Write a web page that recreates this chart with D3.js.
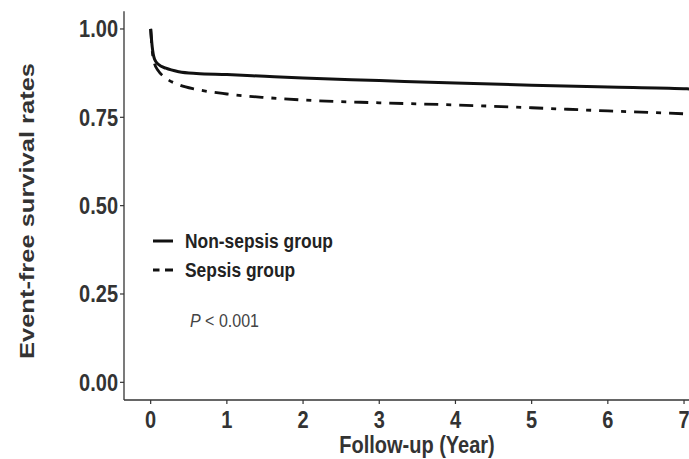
<!DOCTYPE html>
<html>
<head>
<meta charset="utf-8">
<script src="https://cdn.jsdelivr.net/npm/d3@7"></script>
<style>
  html, body { margin: 0; padding: 0; background: #fff; }
  svg { display: block; }
</style>
</head>
<body>
<svg id="chart" width="689" height="459"></svg>
<script>
// ---- Data ----
const years = [0, 0.02, 0.05, 0.1, 0.2, 0.37, 0.6, 1, 1.5, 2, 3, 4, 5, 6, 7, 7.1];
const nonSepsis = [1.0, 0.95, 0.915, 0.900, 0.889, 0.879, 0.874, 0.871, 0.866, 0.861, 0.854, 0.847, 0.841, 0.836, 0.831, 0.830];
const sepsis    = [1.0, 0.94, 0.902, 0.882, 0.861, 0.842, 0.829, 0.816, 0.806, 0.799, 0.791, 0.785, 0.777, 0.768, 0.760, 0.759];
const seriesNames = ["Non-sepsis group", "Sepsis group"];
const xTicks = [0, 1, 2, 3, 4, 5, 6, 7];
const yTicks = [0, 0.25, 0.5, 0.75, 1.0];
const xTitle = "Follow-up (Year)";
const yTitle = "Event-free survival rates";
const pText = "< 0.001";

// ---- Layout ----
const svg = d3.select("#chart");
const axisColor = "#333";
const font = "'Liberation Sans', Arial, sans-serif";
const vStretch = 1.15;

const x = d3.scaleLinear().domain([-0.35, 7.35]).range([124, 710.7]);
const y = d3.scaleLinear().domain([-0.05, 1.05]).range([400, 11.3]);

// axes lines
svg.append("line").attr("x1", x(-0.35)).attr("x2", 689).attr("y1", y(-0.05)).attr("y2", y(-0.05))
  .attr("stroke", axisColor).attr("stroke-width", 1.3);
svg.append("line").attr("x1", x(-0.35)).attr("x2", x(-0.35)).attr("y1", y(1.05)).attr("y2", y(-0.05))
  .attr("stroke", axisColor).attr("stroke-width", 1.3);

// y axis ticks
const yg = svg.append("g");
yTicks.forEach(t => {
  yg.append("line").attr("x1", x(-0.35) - 4).attr("x2", x(-0.35)).attr("y1", y(t)).attr("y2", y(t))
    .attr("stroke", axisColor).attr("stroke-width", 1.2);
  yg.append("text")
    .attr("transform", `translate(118,${y(t)}) scale(1,${vStretch})`)
    .attr("text-anchor", "end").attr("dy", "0.36em")
    .attr("font-family", font).attr("font-weight", "bold").attr("font-size", 20)
    .attr("fill", axisColor).text(d3.format(".2f")(t));
});

// x axis ticks
const xg = svg.append("g");
xTicks.forEach(t => {
  xg.append("line").attr("x1", x(t)).attr("x2", x(t)).attr("y1", y(-0.05)).attr("y2", y(-0.05) + 4)
    .attr("stroke", axisColor).attr("stroke-width", 1.2);
  xg.append("text")
    .attr("transform", `translate(${x(t)},428) scale(1,${vStretch})`)
    .attr("text-anchor", "middle")
    .attr("font-family", font).attr("font-weight", "bold").attr("font-size", 20)
    .attr("fill", axisColor).text(t);
});

// axis titles
svg.append("text")
  .attr("transform", `translate(417,453) scale(1,${vStretch})`)
  .attr("text-anchor", "middle")
  .attr("font-family", font).attr("font-weight", "bold").attr("font-size", 20)
  .attr("fill", axisColor).text(xTitle);

svg.append("text")
  .attr("transform", `translate(34,211) rotate(-90)`)
  .attr("text-anchor", "middle")
  .attr("font-family", font).attr("font-weight", "bold").attr("font-size", 21)
  .attr("textLength", 296).attr("lengthAdjust", "spacingAndGlyphs")
  .attr("fill", axisColor).text(yTitle);

// curves
const line = d3.line().x(d => x(d[0])).y(d => y(d[1])).curve(d3.curveMonotoneX);
const seriesData = [nonSepsis, sepsis];
const dashes = [null, "14,8,5,8"];
seriesData.forEach((vals, i) => {
  svg.append("path")
    .datum(years.map((yr, k) => [yr, vals[k]]))
    .attr("d", line)
    .attr("fill", "none")
    .attr("stroke", "#111")
    .attr("stroke-width", i === 0 ? 3 : 2.8)
    .attr("stroke-dasharray", dashes[i]);
});

// legend
const legendY = [241, 270];
const keyDash = [null, "6.5,5.5,8"];
seriesNames.forEach((name, i) => {
  svg.append("line").attr("x1", 153).attr("x2", 173).attr("y1", legendY[i]).attr("y2", legendY[i])
    .attr("stroke", "#111").attr("stroke-width", 3).attr("stroke-dasharray", keyDash[i]);
  svg.append("text")
    .attr("transform", `translate(185,${legendY[i]}) scale(1,${vStretch})`)
    .attr("dy", "0.36em")
    .attr("font-family", font).attr("font-weight", "bold").attr("font-size", 17.4)
    .attr("fill", "#222").text(name);
});

// p-value
const pt = svg.append("text")
  .attr("transform", `translate(190,320) scale(1,${vStretch})`)
  .attr("dy", "0.36em")
  .attr("font-family", font).attr("font-size", 16)
  .attr("fill", "#444");
pt.append("tspan").attr("font-style", "italic").text("P");
pt.append("tspan").text(" " + pText);
</script>
</body>
</html>
